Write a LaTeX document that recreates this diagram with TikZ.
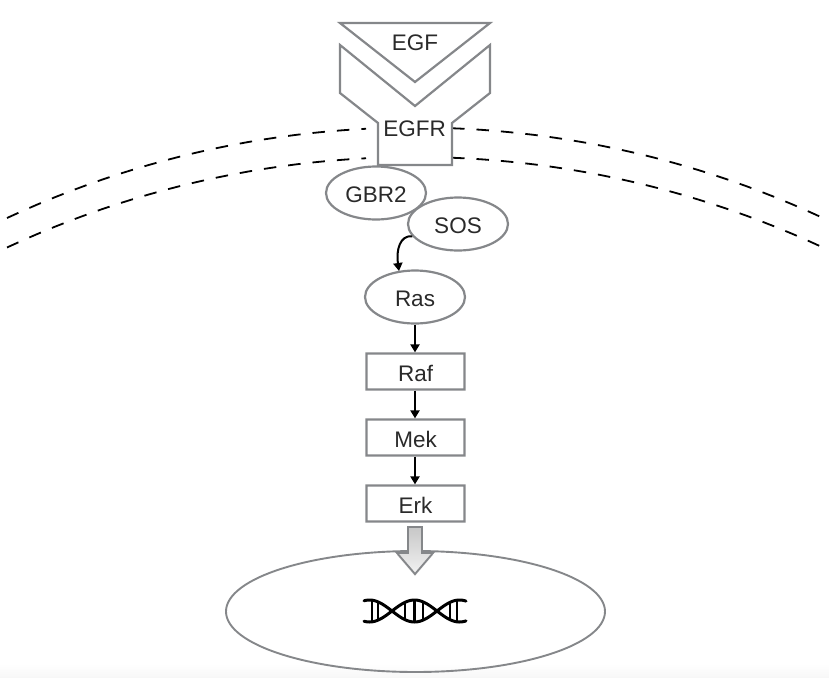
\documentclass[tikz,border=0pt]{standalone}
\usepackage{fontspec}
\setmainfont{Liberation Sans}
\usetikzlibrary{shapes.geometric,arrows.meta,shadows}
\definecolor{edgegrey}{HTML}{85878A}
\definecolor{inkdark}{HTML}{2A2A2A}
\tikzset{
  outline/.style={draw=edgegrey,line width=2.2pt,line join=miter},
  textlook/.style={text=inkdark,font=\fontsize{22.5}{24}\selectfont,inner sep=0pt},
  label/.style={textlook,text height=16pt,text depth=0pt},
  oval/.style={shape=ellipse,outline,fill=white,minimum width=100pt,minimum height=53pt,textlook,text height=18pt,text depth=0pt},
  stepbox/.style={shape=rectangle,outline,rotate=0.05,fill=white,minimum width=98pt,minimum height=36pt,textlook,text height=20pt,text depth=0pt},
  flow/.style={black,line width=2pt,-{Triangle[length=8pt,width=9pt]}},
  membrane/.style={black,line width=1.8pt,dash pattern=on 12.5pt off 12pt,smooth,samples=70},
  helix/.style={black,line width=3pt,line cap=round,smooth,samples=60},
  rung/.style={black,line width=2.3pt}
}
\begin{document}
\begin{tikzpicture}[x=1pt,y=-1pt]
\useasboundingbox (0,0) rectangle (829,677);
\shade[top color=white,bottom color=black!3] (0,664) rectangle (829,677);
% membrane
\draw[membrane,domain=-25.01:-2.91] plot ({415+965*sin(\x)},{1092.5-965*cos(\x)});
\draw[membrane,domain=-25.01:-2.91] plot ({415+965*sin(\x)},{1122-965*cos(\x)});
\draw[membrane,domain=2.2:24.95] plot ({415+965*sin(\x)},{1092.5-965*cos(\x)});
\draw[membrane,domain=2.2:24.95] plot ({415+965*sin(\x)},{1122-965*cos(\x)});
% receptor and ligand
\draw[outline] (340,23) -- (490,23) -- (415,82) -- cycle;
\draw[outline] (340,45) -- (415,106) -- (490,45) -- (490,93) -- (452,123) -- (452,165) -- (378,165) -- (378,123) -- (340,93) -- cycle;
\node[label] (egf) at (415,42.7) {EGF};
\node[label] (egfr) at (414.5,128.7) {EGFR};
% cascade
\node[oval] (gbr) at (376,193) {GBR2};
\node[oval] (sos) at (458,224) {SOS};
\node[oval] (ras) at (415,297) {Ras};
\node[stepbox] (raf) at (415.5,371.5) {Raf};
\node[stepbox] (mek) at (415.5,437.5) {Mek};
\node[stepbox] (erk) at (415.5,503.5) {Erk};
\draw[flow] (sos.195) .. controls (400,235) and (396,250) .. (399,271);
\draw[flow] (ras.south) -- (ras.south |- raf.north);
\draw[flow] (raf.south -| ras.south) -- (ras.south |- mek.north);
\draw[flow] (mek.south -| ras.south) -- (ras.south |- erk.north);
% nucleus
\node[shape=ellipse,outline,line width=1.9pt,minimum width=379pt,minimum height=121pt,inner sep=0pt] (nucleus) at (415.5,611.5) {};
% big arrow
\path[draw=edgegrey,line width=1.8pt,top color=black!22,bottom color=black!5,drop shadow={shadow xshift=0pt,shadow yshift=-2pt,opacity=.28}]
  (408,527) -- (422,527) -- (422,553) -- (433,553) -- (415,574) -- (397,553) -- (408,553) -- cycle;
% DNA
\draw[helix,domain=364:466] plot (\x,{611+11*cos((\x-414.5)*4)});
\draw[helix,domain=364:466] plot (\x,{611-11*cos((\x-414.5)*4)});
\foreach \rx/\rh in {372/10.8,378/9.1,405/8.7,414.5/11,423/9.1,450/8.7,457/10.8}
  \draw[rung] (\rx,611-\rh) -- (\rx,611+\rh);
\end{tikzpicture}
\end{document}
